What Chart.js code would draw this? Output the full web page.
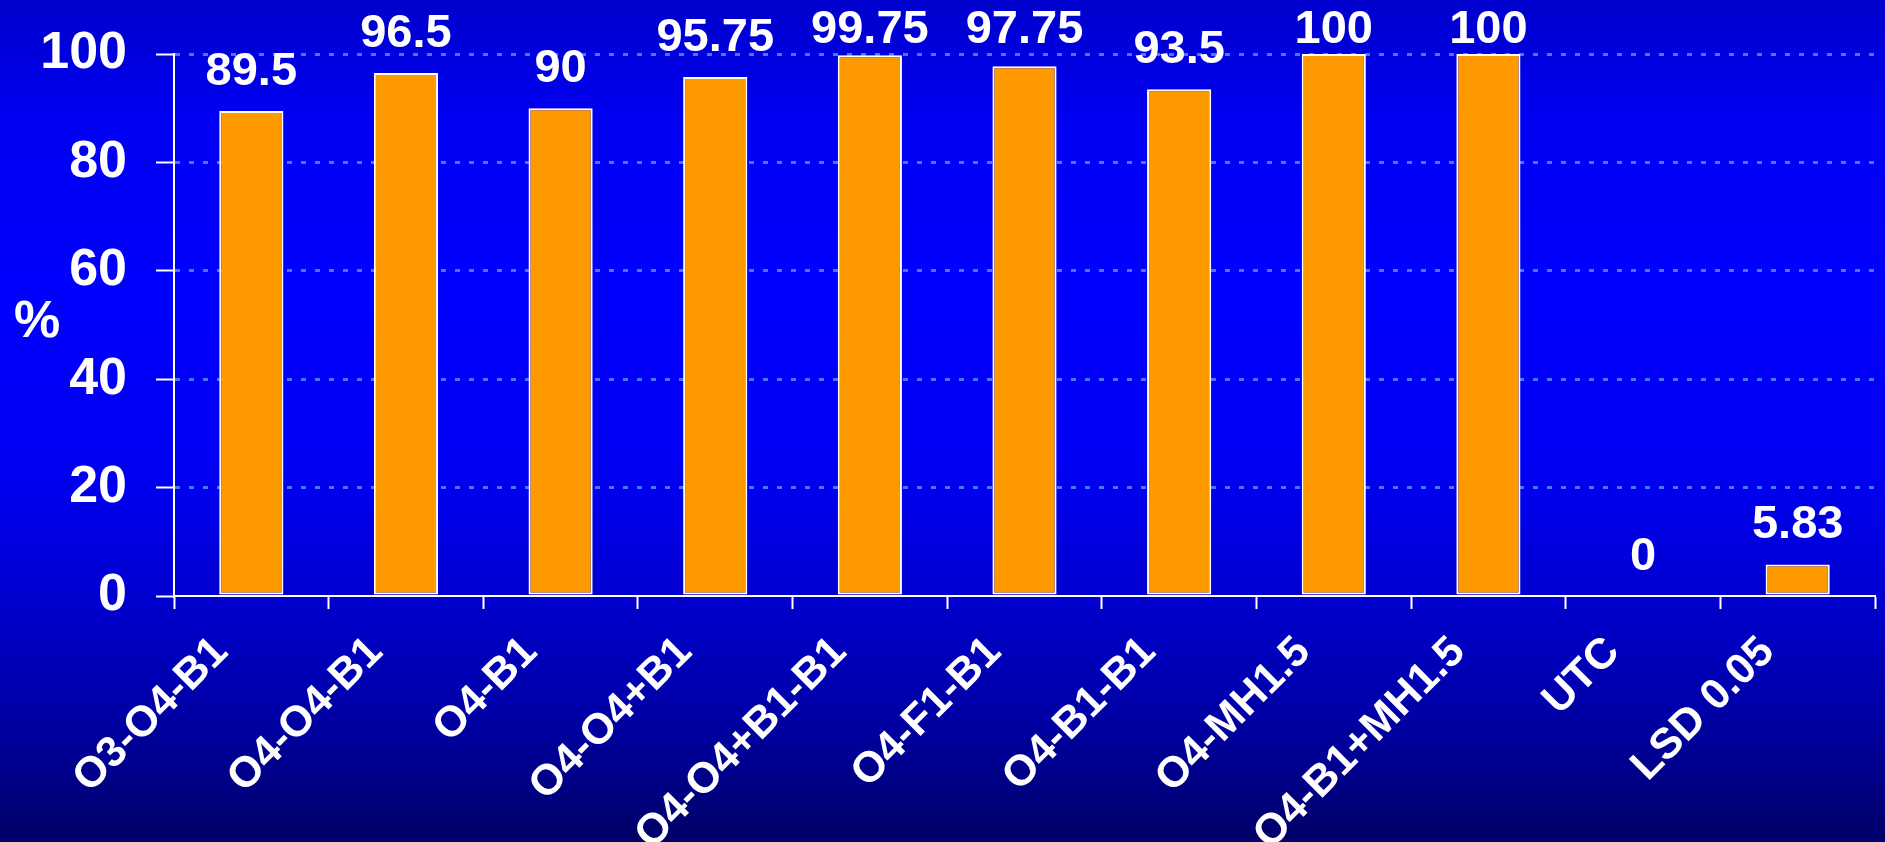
<!DOCTYPE html>
<html>
<head>
<meta charset="utf-8">
<script src="https://cdn.jsdelivr.net/npm/chart.js@4"></script>
<style>
  html, body { margin: 0; padding: 0; }
  body {
    width: 1885px; height: 842px; overflow: hidden;
    background: linear-gradient(to bottom,
      #0000cc 0%, #0000f2 14%, #0000ff 35%, #0000f4 55%,
      #0000d2 70%, #0000a6 85%, #000068 100%);
  }
  canvas { display: block; }
</style>
</head>
<body>
<canvas id="chart" width="1885" height="842"></canvas>
<script>
// Treatments along the x axis
const categories = ['O3-O4-B1', 'O4-O4-B1', 'O4-B1', 'O4-O4+B1', 'O4-O4+B1-B1',
                    'O4-F1-B1', 'O4-B1-B1', 'O4-MH1.5', 'O4-B1+MH1.5', 'UTC', 'LSD 0.05'];
// Percentage per treatment
const values = [89.5, 96.5, 90, 95.75, 99.75, 97.75, 93.5, 100, 100, 0, 5.83];
// Y axis tick values
const yTicks = [0, 20, 40, 60, 80, 100];

const FONT = '"Liberation Sans", Arial, Helvetica, sans-serif';

// Value labels drawn above each bar, kept below the top edge of the canvas
const valueLabels = {
  id: 'valueLabels',
  afterDatasetsDraw(chart) {
    const ctx = chart.ctx;
    const meta = chart.getDatasetMeta(0);
    ctx.save();
    ctx.fillStyle = '#ffffff';
    ctx.font = 'bold 47px ' + FONT;
    ctx.textAlign = 'center';
    ctx.textBaseline = 'alphabetic';
    meta.data.forEach((bar, i) => {
      const y = Math.max(bar.y - 26, 43);
      ctx.fillText(String(values[i]), bar.x, y);
    });
    ctx.restore();
  }
};

// Unit label to the left of the y axis
const unitLabel = {
  id: 'unitLabel',
  afterDraw(chart) {
    const ctx = chart.ctx;
    const area = chart.chartArea;
    ctx.save();
    ctx.fillStyle = '#ffffff';
    ctx.font = 'bold 52px ' + FONT;
    ctx.textAlign = 'center';
    ctx.textBaseline = 'middle';
    ctx.fillText('%', 37, (area.top + area.bottom) / 2 - 2);
    ctx.restore();
  }
};

new Chart(document.getElementById('chart'), {
  type: 'bar',
  data: {
    labels: categories,
    datasets: [{
      data: values,
      backgroundColor: '#ff9900',
      borderColor: '#ffffff',
      borderWidth: 2,
      borderSkipped: false,
      barPercentage: 0.415,
      categoryPercentage: 1
    }]
  },
  options: {
    responsive: false,
    devicePixelRatio: 1,
    animation: false,
    layout: { padding: { top: 54, right: 10, left: 0, bottom: 0 } },
    plugins: {
      legend: { display: false },
      tooltip: { enabled: false },
      title: { display: false }
    },
    scales: {
      x: {
        afterFit(scale) { scale.height = 246; },
        border: { display: true, color: '#ffffff', width: 2 },
        grid: {
          display: true,
          offset: true,
          drawOnChartArea: false,
          drawTicks: true,
          tickLength: 13,
          tickColor: '#ffffff',
          tickWidth: 2
        },
        ticks: {
          color: '#ffffff',
          font: { family: FONT, size: 43, weight: 'bold' },
          minRotation: 45,
          maxRotation: 45,
          autoSkip: false,
          padding: 18,
          labelOffset: -30
        }
      },
      y: {
        min: 0,
        max: 100,
        afterFit(scale) {
          scale.width = 174;
          // the value labels sit above the plot; keep the top edge at the 100 line
          scale.paddingTop = 0;
          scale.paddingBottom = 0;
        },
        afterBuildTicks(scale) { scale.ticks = yTicks.map(v => ({ value: v })); },
        border: { display: true, color: '#ffffff', width: 2, dash: [5, 9] },
        grid: {
          color: ctx => (ctx.tick && ctx.tick.value === 0) ? 'rgba(0,0,0,0)' : '#4677ff',
          lineWidth: 3,
          drawTicks: true,
          tickLength: 18,
          tickColor: '#ffffff',
          tickWidth: 2,
          tickBorderDash: []
        },
        ticks: {
          color: '#ffffff',
          font: { family: FONT, size: 52, weight: 'bold' },
          padding: 29,
          stepSize: 20
        }
      }
    }
  },
  plugins: [valueLabels, unitLabel]
});
</script>
</body>
</html>
